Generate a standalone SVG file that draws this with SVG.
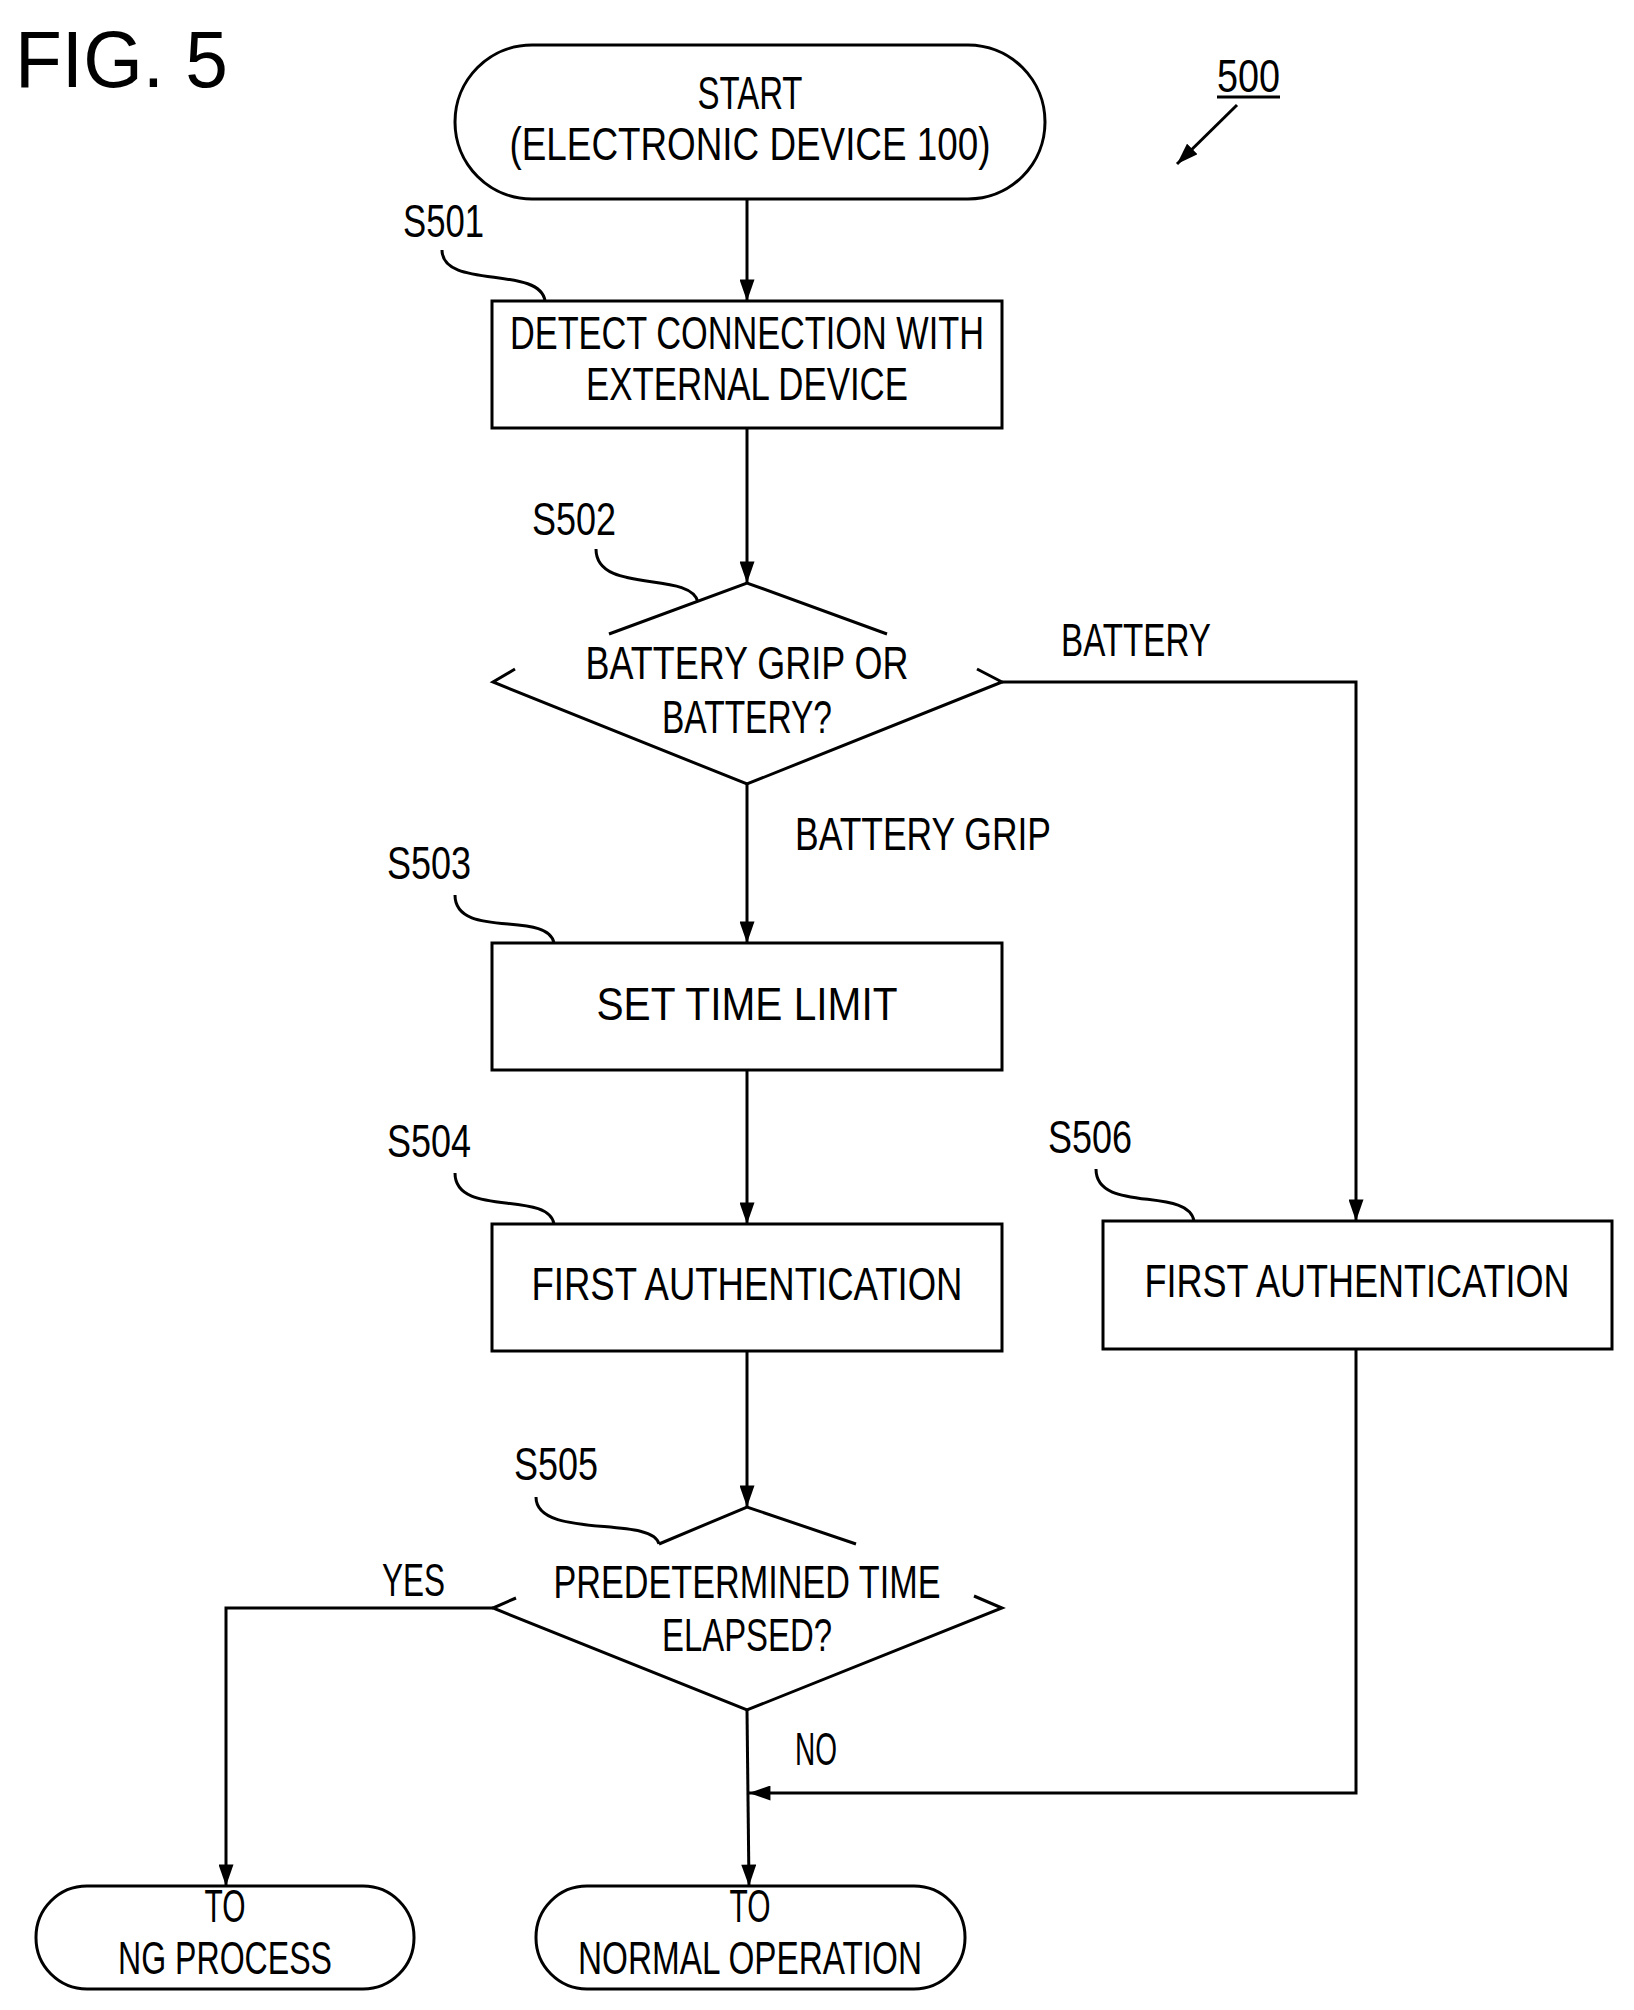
<svg xmlns="http://www.w3.org/2000/svg" width="1634" height="2010" viewBox="0 0 1634 2010">
<defs>
<style>
.s{fill:none;stroke:#000;stroke-width:3}
text{font-family:"Liberation Sans",Arial,sans-serif;font-size:46px;fill:#000}
.c{text-anchor:middle}
</style>
<marker id="ah" viewBox="0 0 20 14" refX="20" refY="7" markerWidth="22" markerHeight="15" markerUnits="userSpaceOnUse" orient="auto"><path d="M0,0L20,7L0,14z"/></marker>
</defs>
<text x="15" y="87" style="font-size:80px" textLength="213" lengthAdjust="spacingAndGlyphs">FIG. 5</text>
<g id="ref500">
<text x="1217" y="92" textLength="63" lengthAdjust="spacingAndGlyphs">500</text>
<line class="s" x1="1217" y1="97" x2="1280" y2="97"/>
<line class="s" x1="1237" y1="105" x2="1177" y2="164" marker-end="url(#ah)"/>
</g>
<g id="start"><rect class="s" x="455" y="45" width="590" height="154" rx="77"/>
<text class="c" x="750" y="109" textLength="105" lengthAdjust="spacingAndGlyphs">START</text>
<text class="c" x="750" y="160" textLength="481" lengthAdjust="spacingAndGlyphs">(ELECTRONIC DEVICE 100)</text></g>
<g id="S501"><text x="403" y="237" textLength="81" lengthAdjust="spacingAndGlyphs">S501</text>
<path class="s" d="M442,250C442,290 540,265 545,301"/>
<rect class="s" x="492" y="301" width="510" height="127"/>
<text class="c" x="747" y="349" textLength="474" lengthAdjust="spacingAndGlyphs">DETECT CONNECTION WITH</text>
<text class="c" x="747" y="400" textLength="322" lengthAdjust="spacingAndGlyphs">EXTERNAL DEVICE</text></g>
<g id="S502"><text x="532" y="535" textLength="84" lengthAdjust="spacingAndGlyphs">S502</text>
<path class="s" d="M596,549C596,595 690,570 698,602"/>
<path class="s" d="M609,634L747,583L887,634M977,669L1002,682L747,784L493,682L515,669"/>
<text class="c" x="747" y="679" textLength="323" lengthAdjust="spacingAndGlyphs">BATTERY GRIP OR</text>
<text class="c" x="747" y="733" textLength="170" lengthAdjust="spacingAndGlyphs">BATTERY?</text></g>
<g id="S503"><text x="387" y="879" textLength="84" lengthAdjust="spacingAndGlyphs">S503</text>
<path class="s" d="M455,895C455,940 548,910 554,943"/>
<rect class="s" x="492" y="943" width="510" height="127"/>
<text class="c" x="747" y="1020" textLength="301" lengthAdjust="spacingAndGlyphs">SET TIME LIMIT</text></g>
<g id="S504"><text x="387" y="1157" textLength="84" lengthAdjust="spacingAndGlyphs">S504</text>
<path class="s" d="M455,1173C455,1218 548,1190 554,1224"/>
<rect class="s" x="492" y="1224" width="510" height="127"/>
<text class="c" x="747" y="1300" textLength="431" lengthAdjust="spacingAndGlyphs">FIRST AUTHENTICATION</text></g>
<g id="S506"><text x="1048" y="1153" textLength="84" lengthAdjust="spacingAndGlyphs">S506</text>
<path class="s" d="M1096,1169C1096,1214 1188,1186 1194,1221"/>
<rect class="s" x="1103" y="1221" width="509" height="128"/>
<text class="c" x="1357" y="1297" textLength="425" lengthAdjust="spacingAndGlyphs">FIRST AUTHENTICATION</text></g>
<g id="S505"><text x="514" y="1480" textLength="84" lengthAdjust="spacingAndGlyphs">S505</text>
<path class="s" d="M536,1497C536,1540 652,1515 659,1544"/>
<path class="s" d="M659,1544L747,1507L856,1544M974,1596L1002,1608L747,1710L493,1608L516,1598"/>
<text class="c" x="747" y="1598" textLength="387" lengthAdjust="spacingAndGlyphs">PREDETERMINED TIME</text>
<text class="c" x="747" y="1651" textLength="170" lengthAdjust="spacingAndGlyphs">ELAPSED?</text></g>
<g id="ng"><rect class="s" x="36" y="1886" width="378" height="103" rx="51"/>
<text class="c" x="225" y="1922" textLength="41" lengthAdjust="spacingAndGlyphs">TO</text>
<text class="c" x="225" y="1974" textLength="214" lengthAdjust="spacingAndGlyphs">NG PROCESS</text></g>
<g id="normal"><rect class="s" x="536" y="1886" width="429" height="103" rx="51"/>
<text class="c" x="750" y="1922" textLength="41" lengthAdjust="spacingAndGlyphs">TO</text>
<text class="c" x="750" y="1974" textLength="344" lengthAdjust="spacingAndGlyphs">NORMAL OPERATION</text></g>
<g id="connectors">
<line class="s" x1="747" y1="199" x2="747" y2="301" marker-end="url(#ah)"/>
<line class="s" x1="747" y1="428" x2="747" y2="583" marker-end="url(#ah)"/>
<line class="s" x1="747" y1="784" x2="747" y2="943" marker-end="url(#ah)"/>
<line class="s" x1="747" y1="1070" x2="747" y2="1224" marker-end="url(#ah)"/>
<line class="s" x1="747" y1="1351" x2="747" y2="1507" marker-end="url(#ah)"/>
<polyline class="s" points="1002,682 1356,682 1356,1221" marker-end="url(#ah)"/>
<polyline class="s" points="493,1608 226,1608 226,1886" marker-end="url(#ah)"/>
<polyline class="s" points="747,1710 749,1886" marker-end="url(#ah)"/>
<polyline class="s" points="1356,1349 1356,1793 749,1793" marker-end="url(#ah)"/>
<text x="1061" y="656" textLength="150" lengthAdjust="spacingAndGlyphs">BATTERY</text>
<text x="795" y="850" textLength="256" lengthAdjust="spacingAndGlyphs">BATTERY GRIP</text>
<text x="382" y="1596" textLength="63" lengthAdjust="spacingAndGlyphs">YES</text>
<text x="795" y="1765" textLength="42" lengthAdjust="spacingAndGlyphs">NO</text>
</g>
</svg>
